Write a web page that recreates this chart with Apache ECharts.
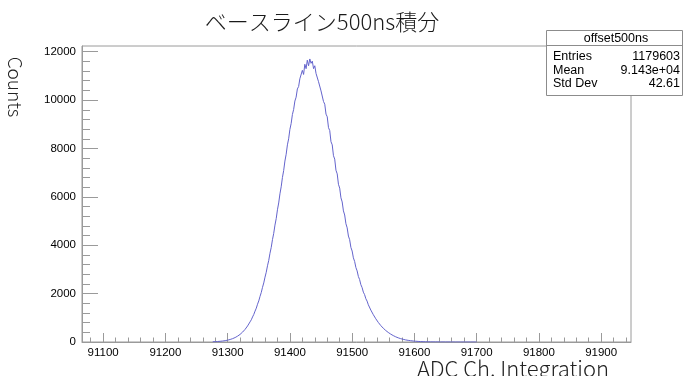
<!DOCTYPE html>
<html>
<head>
<meta charset="utf-8">
<script src="https://cdn.jsdelivr.net/npm/echarts@6/dist/echarts.min.js"></script>
<style>
  html, body { margin: 0; padding: 0; background: #fff; }
  #chart { width: 683px; height: 376px; }
</style>
</head>
<body>
<div id="chart"></div>
<script>
// Histogram of the 500 ns baseline integral (ADC channels), 2-channel sampling
const binStart = 91276;
const binStep = 2;
const counts = [
  10, 12, 14, 17, 21, 24, 29, 33, 41, 46, 56, 63, 76, 87, 104, 117, 139, 156, 184, 207,
  243, 271, 316, 354, 409, 455, 523, 580, 663, 735, 832, 918, 1036, 1139, 1276, 1398, 1561, 1699, 1885, 2046,
  2259, 2441, 2680, 2883, 3150, 3374, 3668, 3910, 4232, 4490, 4832, 5101, 5465, 5748, 6125, 6415, 6800, 7090, 7480, 7760,
  8150, 8400, 8790, 9030, 9400, 9610, 9960, 10120, 10460, 10560, 10880, 10930, 11230, 11060, 11480, 11300, 11650, 11420, 11700, 11520,
  11610, 11300, 11420, 11100, 11160, 10760, 10820, 10380, 10300, 9940, 9830, 9420, 9310, 8860, 8740, 8280, 8150, 7700, 7560, 7100,
  6950, 6520, 6360, 5960, 5790, 5420, 5250, 4890, 4720, 4380, 4230, 3910, 3760, 3480, 3330, 3080, 2940, 2710, 2580, 2370,
  2250, 2060, 1960, 1790, 1690, 1540, 1460, 1320, 1250, 1130, 1065, 960, 900, 810, 760, 680, 640, 570, 530, 475,
  445, 395, 365, 325, 300, 265, 245, 215, 198, 172, 160, 138, 127, 110, 101, 86, 80, 68, 62, 54,
  48, 41, 37, 32, 28, 24, 21, 18, 16, 13, 12, 10, 9, 8, 7, 6, 5, 5, 4, 4,
  3, 3, 3, 2, 2, 2, 2, 1, 1, 1, 1, 1, 1, 1, 1, 0, 1, 0, 1, 0,
  1, 0, 1, 0, 0, 0, 1, 0, 0, 0, 0, 0, 1
];

// Axis ranges and tick positions
const xRange = [91066, 91948];
const yRange = [0, 12236];
const xMajorTicks = [91100, 91200, 91300, 91400, 91500, 91600, 91700, 91800, 91900];
const xMinorTicks = [
  91080, 91120, 91140, 91160, 91180, 91220, 91240, 91260, 91280, 91320, 91340, 91360, 91380,
  91420, 91440, 91460, 91480, 91520, 91540, 91560, 91580, 91620, 91640, 91660, 91680,
  91720, 91740, 91760, 91780, 91820, 91840, 91860, 91880, 91920, 91940
];
const yMajorTicks = [0, 2000, 4000, 6000, 8000, 10000, 12000];
const yMinorTicks = [400, 800, 1200, 1600, 2400, 2800, 3200, 3600, 4400, 4800, 5200, 5600,
  6400, 6800, 7200, 7600, 8400, 8800, 9200, 9600, 10400, 10800, 11200, 11600];

// Statistics panel
const statsName = 'offset500ns';
const statsLabels = ['Entries', 'Mean', 'Std Dev'];
const statsValues = ['1179603', '9.143e+04', '42.61'];

const titleText = 'ベースライン500ns積分';
const xTitle = 'ADC Ch. Integration';
const yTitle = 'Counts';

const LATIN = '"Liberation Sans", Arial, sans-serif';
const CJK = '"Noto Sans CJK JP", "Noto Sans", sans-serif';
const axisGrey = '#9a9a9a';

const chart = echarts.init(document.getElementById('chart'), null, { renderer: 'canvas' });

const points = counts.map((c, i) => [binStart + i * binStep, c]);

const statsGraphics = [
  { type: 'rect', shape: { x: 546.5, y: 30.5, width: 136, height: 65 },
    style: { fill: '#fff', stroke: '#8c8c8c', lineWidth: 1 }, z: 100 },
  { type: 'line', shape: { x1: 546.5, y1: 45.5, x2: 682.5, y2: 45.5 },
    style: { stroke: '#8c8c8c', lineWidth: 1 }, z: 101 },
  { type: 'text', x: 616, y: 38.5, z: 101,
    style: { text: statsName, font: '12.5px ' + LATIN, fill: '#000', align: 'center', verticalAlign: 'middle' } }
];
statsLabels.forEach((lab, i) => {
  const y = 56.5 + i * 13.7;
  statsGraphics.push({ type: 'text', x: 553, y: y, z: 101,
    style: { text: lab, font: '12.5px ' + LATIN, fill: '#000', align: 'left', verticalAlign: 'middle' } });
  statsGraphics.push({ type: 'text', x: 680, y: y, z: 101,
    style: { text: statsValues[i], font: '12.5px ' + LATIN, fill: '#000', align: 'right', verticalAlign: 'middle' } });
});

const option = {
  animation: false,
  backgroundColor: '#fff',
  grid: {
    left: 82, right: 52, top: 46, bottom: 34,
    show: true, borderColor: axisGrey, borderWidth: 1, backgroundColor: 'transparent'
  },
  xAxis: [
    {
      type: 'value', min: xRange[0], max: xRange[1], position: 'bottom',
      axisLine: { show: true, lineStyle: { color: axisGrey, width: 1 } },
      axisTick: { show: true, inside: true, length: 9, customValues: xMajorTicks,
        lineStyle: { color: axisGrey, width: 1 } },
      axisLabel: { show: true, customValues: xMajorTicks, color: '#000', fontSize: 11.5,
        fontFamily: LATIN, margin: 5, formatter: v => String(v) },
      splitLine: { show: false }
    },
    {
      type: 'value', min: xRange[0], max: xRange[1], position: 'bottom', offset: 0,
      axisLine: { show: false },
      axisTick: { show: true, inside: true, length: 4.5, customValues: xMinorTicks,
        lineStyle: { color: axisGrey, width: 1 } },
      axisLabel: { show: false },
      splitLine: { show: false }
    }
  ],
  yAxis: [
    {
      type: 'value', min: yRange[0], max: yRange[1], position: 'left',
      axisLine: { show: true, lineStyle: { color: axisGrey, width: 1 } },
      axisTick: { show: true, inside: true, length: 16, customValues: yMajorTicks,
        lineStyle: { color: axisGrey, width: 1 } },
      axisLabel: { show: true, customValues: yMajorTicks, color: '#000', fontSize: 11.5,
        fontFamily: LATIN, margin: 6, formatter: v => String(v) },
      splitLine: { show: false }
    },
    {
      type: 'value', min: yRange[0], max: yRange[1], position: 'left', offset: 0,
      axisLine: { show: false },
      axisTick: { show: true, inside: true, length: 8, customValues: yMinorTicks,
        lineStyle: { color: axisGrey, width: 1 } },
      axisLabel: { show: false },
      splitLine: { show: false }
    }
  ],
  series: [
    {
      type: 'line',
      name: statsName,
      xAxisIndex: 0,
      yAxisIndex: 0,
      data: points,
      showSymbol: false,
      symbol: 'none',
      lineStyle: { color: '#6464cc', width: 1 },
      z: 5
    }
  ],
  graphic: [
    { type: 'text', x: 322, y: 22,
      style: { text: titleText, font: '300 22px ' + CJK, fill: '#1a1a1a', align: 'center', verticalAlign: 'middle' } },
    { type: 'text', x: 15, y: 87, rotation: -Math.PI / 2,
      style: { text: yTitle, font: '300 19px ' + CJK, fill: '#222', align: 'center', verticalAlign: 'middle' } },
    { type: 'text', x: 609, y: 369,
      style: { text: xTitle, font: '300 22px ' + CJK, fill: '#222', align: 'right', verticalAlign: 'middle' } }
  ].concat(statsGraphics)
};

chart.setOption(option);
</script>
</body>
</html>
